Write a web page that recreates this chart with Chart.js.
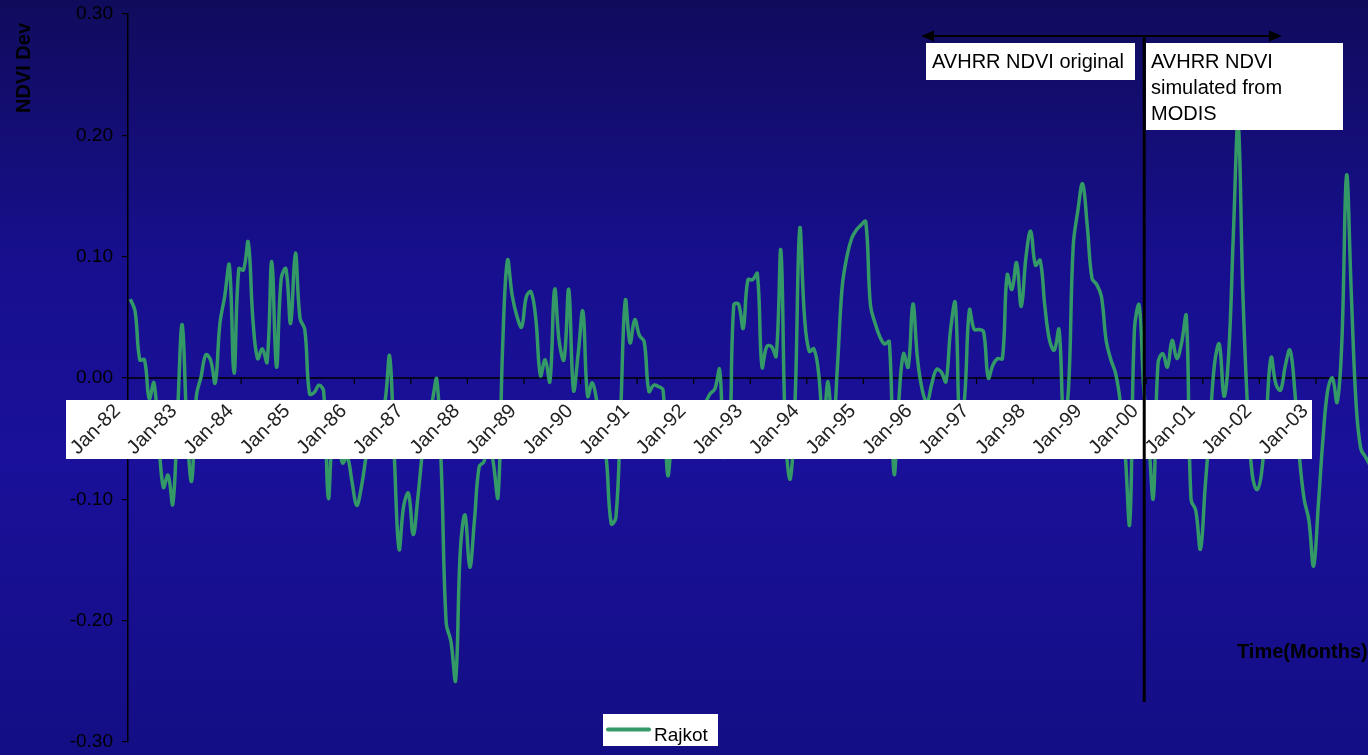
<!DOCTYPE html>
<html>
<head>
<meta charset="utf-8">
<title>NDVI Dev - Rajkot</title>
<script src="https://cdn.jsdelivr.net/npm/chart.js@4.4.1/dist/chart.umd.min.js"></script>
<style>
  html, body { margin: 0; padding: 0; overflow: hidden; background: #150f88; }
  #wrap { width: 1368px; height: 755px; overflow: hidden; }
</style>
</head>
<body>
<div id="wrap"><canvas id="ndviChart" width="1380" height="755"></canvas></div>
<script>
// Category axis: one point per month, Jan-82 .. Dec-03
const monthNames = ['Jan', 'Feb', 'Mar', 'Apr', 'May', 'Jun', 'Jul', 'Aug', 'Sep', 'Oct', 'Nov', 'Dec'];
const yearCodes = ['82', '83', '84', '85', '86', '87', '88', '89', '90', '91', '92',
                   '93', '94', '95', '96', '97', '98', '99', '00', '01', '02', '03'];

// Labels shown on the white band (every January)
const tickLabels = ['Jan-82', 'Jan-83', 'Jan-84', 'Jan-85', 'Jan-86', 'Jan-87', 'Jan-88', 'Jan-89',
                    'Jan-90', 'Jan-91', 'Jan-92', 'Jan-93', 'Jan-94', 'Jan-95', 'Jan-96', 'Jan-97',
                    'Jan-98', 'Jan-99', 'Jan-00', 'Jan-01', 'Jan-02', 'Jan-03'];

// NDVI deviation, Rajkot (monthly, one row per year)
const rajkot = [
    0.065, 0.055, 0.015, 0.015, -0.017, -0.004, -0.05, -0.09, -0.08, -0.104, -0.03, 0.044,
    -0.04, -0.085, -0.015, 0.001, 0.019, 0.015, -0.004, 0.045, 0.067, 0.093, 0.004, 0.090,
    0.089, 0.112, 0.048, 0.016, 0.024, 0.013, 0.096, 0.009, 0.082, 0.090, 0.045, 0.103,
    0.049, 0.040, -0.013, -0.012, -0.006, -0.011, -0.099, -0.045, -0.05, -0.07, -0.065, -0.085,
    -0.105, -0.09, -0.065, -0.045, -0.035, -0.03, -0.02, 0.018, -0.065, -0.141, -0.105, -0.095,
    -0.129, -0.098, -0.06, -0.035, -0.02, -0.001, -0.078, -0.202, -0.217, -0.249, -0.142, -0.113,
    -0.156, -0.117, -0.073, -0.069, -0.05, -0.07, -0.098, 0.029, 0.097, 0.068, 0.051, 0.042,
    0.067, 0.071, 0.049, 0.002, 0.015, -0.003, 0.073, 0.029, 0.015, 0.073, -0.010, 0.02,
    0.055, -0.015, -0.004, -0.02, -0.04, -0.068, -0.12, -0.115, -0.03, 0.064, 0.029, 0.048,
    0.035, 0.030, -0.011, -0.006, -0.007, -0.010, -0.080, -0.05, -0.04, -0.035, -0.03, -0.03,
    -0.03, -0.025, -0.02, -0.013, -0.009, 0.007, -0.065, -0.06, 0.060, 0.061, 0.041, 0.081,
    0.081, 0.086, 0.009, 0.026, 0.026, 0.018, 0.105, -0.05, -0.083, -0.02, 0.123, 0.051,
    0.022, 0.024, 0.004, -0.04, -0.003, -0.045, 0.01, 0.075, 0.10, 0.115, 0.122, 0.126,
    0.129, 0.06, 0.045, 0.034, 0.028, 0.030, -0.079, -0.02, 0.020, 0.009, 0.061, 0.015,
    -0.010, -0.02, -0.005, 0.007, 0.005, -0.003, 0.04, 0.062, -0.045, -0.015, 0.056, 0.040,
    0.040, 0.038, 0.0, 0.011, 0.016, 0.016, 0.085, 0.073, 0.095, 0.059, 0.10, 0.121,
    0.093, 0.097, 0.059, 0.031, 0.023, 0.04, -0.035, -0.01, 0.108, 0.138, 0.160, 0.125,
    0.082, 0.077, 0.067, 0.031, 0.015, 0.004, -0.02, -0.06, -0.12, 0.04, 0.06, -0.01,
    -0.05, -0.099, 0.012, 0.020, 0.009, 0.031, 0.016, 0.029, 0.051, -0.1, -0.109, -0.141,
    -0.090, -0.04, 0.012, 0.028, -0.015, 0.02, 0.12, 0.21, 0.07, -0.025, -0.08, -0.092,
    -0.077, -0.03, 0.017, -0.005, -0.01, 0.01, 0.023, -0.01, -0.065, -0.10, -0.117, -0.155,
    -0.105, -0.05, -0.01, 0.0, -0.02, 0.03, 0.167, 0.07, -0.02, -0.058, -0.065, -0.072
];

// Text of the two annotation boxes
const originalNote = ['AVHRR NDVI original'];
const simulatedNote = ['AVHRR NDVI', 'simulated from', 'MODIS'];

const FONT = 'Arial, "Liberation Sans", Helvetica, sans-serif';

// month labels for the category scale
const monthLabels = [];
yearCodes.forEach(yy => monthNames.forEach(m => monthLabels.push(m + '-' + yy)));

// Background gradient over the whole canvas
const backgroundPlugin = {
    id: 'background',
    beforeDraw(chart) {
        const ctx = chart.ctx;
        const g = ctx.createLinearGradient(0, 0, 0, chart.height);
        g.addColorStop(0, '#100c5c');
        g.addColorStop(0.35, '#170f8e');
        g.addColorStop(0.6, '#1a109a');
        g.addColorStop(1, '#140e84');
        ctx.save();
        ctx.fillStyle = g;
        ctx.fillRect(0, 0, chart.width, chart.height);
        ctx.restore();
    }
};

// Category axis drawn at y = 0, under the series
const zeroAxisPlugin = {
    id: 'zeroAxis',
    beforeDatasetsDraw(chart) {
        const ctx = chart.ctx;
        const x = chart.scales.x;
        const y0 = chart.scales.y.getPixelForValue(0);
        const area = chart.chartArea;
        ctx.save();
        ctx.strokeStyle = '#000';
        ctx.lineWidth = 1.5;
        ctx.beginPath();
        ctx.moveTo(area.left, y0);
        ctx.lineTo(area.right, y0);
        ctx.stroke();
        ctx.lineWidth = 1.2;
        for (let i = 12; i < monthLabels.length; i += 12) {
            const px = (x.getPixelForValue(i - 1) + x.getPixelForValue(i)) / 2;
            ctx.beginPath();
            ctx.moveTo(px, y0);
            ctx.lineTo(px, y0 + 6);
            ctx.stroke();
        }
        ctx.restore();
    }
};

// Label band, annotations, axis titles and legend, over the series
const overlayPlugin = {
    id: 'overlay',
    afterDatasetsDraw(chart) {
        const ctx = chart.ctx;
        const x = chart.scales.x;
        ctx.save();

        // white band with the rotated January labels
        ctx.fillStyle = '#fff';
        ctx.fillRect(66, 400, 1246, 59);
        ctx.fillStyle = '#222';
        ctx.font = '20px ' + FONT;
        ctx.textAlign = 'right';
        ctx.textBaseline = 'middle';
        tickLabels.forEach((lab, k) => {
            const px = x.getPixelForValue(k * 12);
            ctx.save();
            ctx.translate(px - 13, 408);
            ctx.rotate(-Math.PI / 4);
            ctx.fillText(lab, 0, 0);
            ctx.restore();
        });

        // divider between the original and the simulated record
        const divX = (x.getPixelForValue(215) + x.getPixelForValue(216)) / 2 - 2;
        ctx.strokeStyle = '#000';
        ctx.lineWidth = 3;
        ctx.beginPath();
        ctx.moveTo(divX, 36);
        ctx.lineTo(divX, 702);
        ctx.stroke();

        // double-headed arrow
        ctx.lineWidth = 2;
        ctx.beginPath();
        ctx.moveTo(930, 36);
        ctx.lineTo(1273, 36);
        ctx.stroke();
        ctx.fillStyle = '#000';
        ctx.beginPath();
        ctx.moveTo(921, 36); ctx.lineTo(934, 30.5); ctx.lineTo(934, 41.5); ctx.closePath();
        ctx.fill();
        ctx.beginPath();
        ctx.moveTo(1282, 36); ctx.lineTo(1269, 30.5); ctx.lineTo(1269, 41.5); ctx.closePath();
        ctx.fill();

        // annotation boxes
        ctx.fillStyle = '#fff';
        ctx.fillRect(926, 43, 209, 37);
        ctx.fillRect(1146, 43, 197, 87);
        ctx.fillStyle = '#000';
        ctx.font = '20px ' + FONT;
        ctx.textAlign = 'left';
        ctx.textBaseline = 'alphabetic';
        originalNote.forEach((t, i) => ctx.fillText(t, 932, 68 + i * 26));
        simulatedNote.forEach((t, i) => ctx.fillText(t, 1151, 68 + i * 26));

        // axis titles
        ctx.font = 'bold 20px ' + FONT;
        ctx.fillText('Time(Months)', 1237, 658);
        ctx.save();
        ctx.translate(30, 68);
        ctx.rotate(-Math.PI / 2);
        ctx.textAlign = 'center';
        ctx.fillText('NDVI Dev', 0, 0);
        ctx.restore();

        // legend
        const ds = chart.data.datasets[0];
        ctx.fillStyle = '#fff';
        ctx.fillRect(603, 714, 115, 32);
        ctx.strokeStyle = ds.borderColor;
        ctx.lineWidth = 4;
        ctx.lineCap = 'round';
        ctx.beginPath();
        ctx.moveTo(608, 729.5);
        ctx.lineTo(649, 729.5);
        ctx.stroke();
        ctx.fillStyle = '#000';
        ctx.font = '19px ' + FONT;
        ctx.fillText(ds.label, 654, 741);

        ctx.restore();
    }
};

const ctx = document.getElementById('ndviChart').getContext('2d');
new Chart(ctx, {
    type: 'line',
    data: {
        labels: monthLabels,
        datasets: [{
            label: 'Rajkot',
            data: rajkot,
            borderColor: '#339966',
            borderWidth: 3.5,
            pointRadius: 0,
            tension: 0.4,
            fill: false
        }]
    },
    options: {
        responsive: false,
        animation: false,
        devicePixelRatio: 1,
        layout: { padding: { top: 14, bottom: 13, left: 0, right: 7.5 } },
        scales: {
            x: {
                type: 'category',
                display: false,
                offset: true
            },
            y: {
                min: -0.3,
                max: 0.3,
                afterFit(scale) {
                    scale.width = 128;
                    scale.paddingTop = 0;
                    scale.paddingBottom = 0;
                },
                ticks: {
                    stepSize: 0.1,
                    padding: 9,
                    color: '#000',
                    font: { family: FONT, size: 19 },
                    callback: v => Number(v).toFixed(2)
                },
                grid: {
                    drawOnChartArea: false,
                    drawTicks: true,
                    tickLength: 6,
                    color: '#000',
                    lineWidth: 1.2
                },
                border: { display: true, color: '#000', width: 1.5 }
            }
        },
        plugins: {
            legend: { display: false },
            title: { display: false },
            tooltip: { enabled: false }
        }
    },
    plugins: [backgroundPlugin, zeroAxisPlugin, overlayPlugin]
});
</script>
</body>
</html>
